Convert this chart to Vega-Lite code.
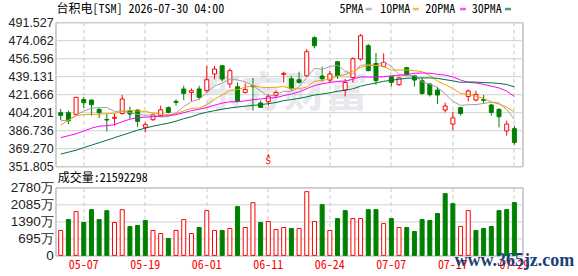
{
 "$schema": "https://vega.github.io/schema/vega-lite/v6.json",
 "background": "#ffffff",
 "padding": {"left": 7.5, "top": 2.2, "right": 0, "bottom": 0},
 "bounds": "flush",
 "spacing": 21.2,
 "config": {
  "view": {"stroke": "#a0a0a0", "strokeWidth": 1},
  "axis": {"domain": false, "ticks": false, "tickSize": 0, "title": null, "labelFlush": false, "labelOverlap": false, "labelSeparation": 0, "labelBound": false},
  "axisY": {"labelFont": "Liberation Sans", "labelFontSize": 12.5, "labelColor": "#222222", "labelPadding": 2.3, "gridColor": "#d0d0d0", "labelOverlap": false},
  "axisX": {"labelFont": "Noto Sans Mono CJK SC, Noto Sans CJK SC, DejaVu Sans Mono", "labelFontSize": 12, "labelColor": "#ff0000", "labelAngle": 0, "labelPadding": 4, "gridColor": "#c8c8c8", "gridDash": [4, 3]},
  "text": {"font": "Noto Sans Mono CJK SC, Noto Sans CJK SC, DejaVu Sans Mono"}
 },
 "datasets": {
  "k": [
   {"d":"05-04","o":403.7,"h":407.3,"l":396.6,"c":401.1,"v":1020,"vu":1,"m5":395.9,"m10":391.8,"m20":379.5,"m30":363.6},
   {"d":"05-05","o":403.7,"h":405.7,"l":392.7,"c":395.9,"v":1465,"vu":0,"m5":396.4,"m10":396.2,"m20":381.4,"m30":365.4},
   {"d":"05-06","o":402.1,"h":419.2,"l":401.1,"c":418.6,"v":1790,"vu":1,"m5":401.3,"m10":400.8,"m20":383.3,"m30":367.3},
   {"d":"05-07","o":416.6,"h":418.9,"l":408.3,"c":413.4,"v":1345,"vu":0,"m5":405.2,"m10":401.8,"m20":385.8,"m30":369.8},
   {"d":"05-08","o":416.0,"h":416.3,"l":400.8,"c":411.5,"v":1870,"vu":0,"m5":408.1,"m10":402.1,"m20":388.7,"m30":372.2},
   {"d":"05-11","o":406.9,"h":408.3,"l":398.6,"c":403.7,"v":1465,"vu":0,"m5":408.6,"m10":402.3,"m20":390.6,"m30":374.6},
   {"d":"05-12","o":397.2,"h":402.5,"l":385.6,"c":396.6,"v":1830,"vu":0,"m5":408.8,"m10":402.7,"m20":391.1,"m30":377.0},
   {"d":"05-13","o":398.2,"h":403.0,"l":391.1,"c":399.2,"v":1345,"vu":1,"m5":404.9,"m10":403.2,"m20":392.1,"m30":379.5},
   {"d":"05-14","o":403.0,"h":420.9,"l":401.8,"c":417.0,"v":1870,"vu":1,"m5":405.6,"m10":404.7,"m20":395.0,"m30":381.9},
   {"d":"05-15","o":405.7,"h":409.5,"l":397.6,"c":402.4,"v":1180,"vu":0,"m5":403.8,"m10":405.9,"m20":397.4,"m30":384.3},
   {"d":"05-18","o":406.3,"h":406.9,"l":390.1,"c":395.3,"v":1220,"vu":0,"m5":402.1,"m10":405.4,"m20":398.9,"m30":386.8},
   {"d":"05-19","o":389.5,"h":394.3,"l":384.6,"c":392.1,"v":1425,"vu":0,"m5":401.2,"m10":405.0,"m20":399.4,"m30":388.7},
   {"d":"05-20","o":396.9,"h":403.0,"l":395.9,"c":401.5,"v":1020,"vu":1,"m5":401.7,"m10":403.3,"m20":399.8,"m30":390.6},
   {"d":"05-21","o":400.8,"h":410.5,"l":399.8,"c":406.6,"v":895,"vu":1,"m5":399.6,"m10":402.6,"m20":400.3,"m30":392.1},
   {"d":"05-22","o":408.6,"h":409.8,"l":403.0,"c":404.0,"v":690,"vu":0,"m5":399.9,"m10":401.8,"m20":400.8,"m30":393.5},
   {"d":"05-26","o":414.7,"h":416.6,"l":410.5,"c":413.7,"v":1020,"vu":1,"m5":403.6,"m10":402.8,"m20":401.8,"m30":395.5},
   {"d":"05-27","o":426.7,"h":429.9,"l":416.0,"c":422.4,"v":1465,"vu":1,"m5":409.6,"m10":405.4,"m20":403.7,"m30":397.9},
   {"d":"05-28","o":423.4,"h":427.3,"l":414.7,"c":425.1,"v":895,"vu":1,"m5":414.4,"m10":408.0,"m20":405.7,"m30":399.8},
   {"d":"05-29","o":426.7,"h":429.9,"l":416.3,"c":418.6,"v":1140,"vu":0,"m5":416.8,"m10":408.2,"m20":407.1,"m30":402.3},
   {"d":"06-01","o":425.1,"h":449.3,"l":423.4,"c":435.7,"v":1830,"vu":1,"m5":423.1,"m10":411.5,"m20":408.7,"m30":404.2},
   {"d":"06-02","o":441.3,"h":449.0,"l":436.0,"c":446.1,"v":1020,"vu":1,"m5":429.6,"m10":416.6,"m20":411.0,"m30":405.7},
   {"d":"06-03","o":449.3,"h":450.0,"l":434.1,"c":436.4,"v":1020,"vu":0,"m5":432.4,"m10":421.0,"m20":413.0,"m30":407.1},
   {"d":"06-04","o":431.6,"h":446.7,"l":427.7,"c":444.5,"v":1100,"vu":1,"m5":436.3,"m10":425.3,"m20":414.3,"m30":408.3},
   {"d":"06-05","o":428.9,"h":433.1,"l":413.7,"c":414.7,"v":1995,"vu":0,"m5":435.5,"m10":426.1,"m20":414.4,"m30":409.2},
   {"d":"06-08","o":423.4,"h":432.2,"l":422.4,"c":426.3,"v":1140,"vu":1,"m5":433.6,"m10":428.4,"m20":415.1,"m30":410.0},
   {"d":"06-09","o":429.9,"h":437.4,"l":405.7,"c":428.9,"v":2155,"vu":1,"m5":430.2,"m10":429.9,"m20":416.4,"m30":410.8},
   {"d":"06-10","o":413.1,"h":415.4,"l":408.3,"c":408.9,"v":1345,"vu":0,"m5":424.7,"m10":428.5,"m20":417.0,"m30":411.5},
   {"d":"06-11","o":414.4,"h":421.9,"l":410.5,"c":419.5,"v":1385,"vu":1,"m5":419.7,"m10":428.0,"m20":418.0,"m30":412.5},
   {"d":"06-12","o":420.2,"h":425.1,"l":419.2,"c":423.4,"v":1060,"vu":1,"m5":421.4,"m10":428.4,"m20":418.3,"m30":413.6},
   {"d":"06-15","o":440.9,"h":443.5,"l":433.1,"c":441.9,"v":1140,"vu":1,"m5":424.5,"m10":429.1,"m20":420.3,"m30":415.5},
   {"d":"06-16","o":436.7,"h":439.6,"l":425.1,"c":427.0,"v":1100,"vu":0,"m5":424.1,"m10":427.2,"m20":421.9,"m30":416.4},
   {"d":"06-17","o":435.7,"h":443.5,"l":432.1,"c":433.1,"v":1100,"vu":1,"m5":429.0,"m10":426.8,"m20":423.9,"m30":417.6},
   {"d":"06-18","o":439.6,"h":465.5,"l":438.6,"c":462.9,"v":2605,"vu":1,"m5":437.7,"m10":428.7,"m20":427.0,"m30":419.1},
   {"d":"06-22","o":476.5,"h":477.8,"l":466.1,"c":468.7,"v":1385,"vu":1,"m5":446.7,"m10":434.1,"m20":430.1,"m30":420.9},
   {"d":"06-23","o":439.3,"h":448.3,"l":434.1,"c":436.7,"v":2075,"vu":0,"m5":445.7,"m10":435.1,"m20":431.7,"m30":421.8},
   {"d":"06-24","o":435.4,"h":444.5,"l":433.1,"c":441.3,"v":1020,"vu":1,"m5":448.5,"m10":436.3,"m20":433.1,"m30":423.0},
   {"d":"06-25","o":453.2,"h":453.5,"l":436.4,"c":439.6,"v":1505,"vu":0,"m5":449.8,"m10":439.4,"m20":434.0,"m30":424.5},
   {"d":"06-26","o":425.7,"h":436.4,"l":419.5,"c":433.1,"v":1830,"vu":0,"m5":443.9,"m10":440.8,"m20":434.4,"m30":425.6},
   {"d":"06-29","o":437.9,"h":457.4,"l":433.1,"c":456.1,"v":1505,"vu":1,"m5":441.4,"m10":444.0,"m20":436.2,"m30":426.9},
   {"d":"06-30","o":455.8,"h":480.1,"l":454.2,"c":478.4,"v":1505,"vu":1,"m5":449.7,"m10":447.7,"m20":438.4,"m30":429.4},
   {"d":"07-01","o":468.7,"h":470.4,"l":444.0,"c":444.5,"v":1870,"vu":0,"m5":450.3,"m10":449.4,"m20":438.3,"m30":431.1},
   {"d":"07-02","o":451.5,"h":461.6,"l":430.9,"c":434.8,"v":1870,"vu":0,"m5":449.4,"m10":449.6,"m20":438.2,"m30":432.5},
   {"d":"07-06","o":448.6,"h":461.3,"l":447.7,"c":452.5,"v":1300,"vu":1,"m5":453.3,"m10":448.6,"m20":438.6,"m30":434.2},
   {"d":"07-07","o":438.6,"h":439.0,"l":429.2,"c":433.1,"v":1505,"vu":0,"m5":448.7,"m10":445.0,"m20":439.5,"m30":435.1},
   {"d":"07-08","o":430.9,"h":438.6,"l":429.9,"c":437.4,"v":1140,"vu":1,"m5":440.5,"m10":445.1,"m20":440.1,"m30":436.2},
   {"d":"07-09","o":447.4,"h":448.3,"l":439.6,"c":440.6,"v":1140,"vu":0,"m5":439.7,"m10":445.0,"m20":440.7,"m30":437.1},
   {"d":"07-10","o":439.6,"h":440.6,"l":429.2,"c":435.4,"v":975,"vu":0,"m5":439.8,"m10":444.6,"m20":442.0,"m30":437.5},
   {"d":"07-13","o":434.8,"h":437.9,"l":421.2,"c":422.4,"v":1465,"vu":0,"m5":433.8,"m10":443.5,"m20":442.2,"m30":437.4},
   {"d":"07-14","o":431.6,"h":432.2,"l":419.5,"c":421.2,"v":1425,"vu":0,"m5":431.4,"m10":440.0,"m20":442.0,"m30":437.5},
   {"d":"07-15","o":425.7,"h":428.9,"l":412.2,"c":420.9,"v":1710,"vu":0,"m5":428.1,"m10":434.3,"m20":441.0,"m30":437.0},
   {"d":"07-16","o":406.3,"h":413.4,"l":404.0,"c":410.2,"v":2525,"vu":0,"m5":422.0,"m10":430.9,"m20":440.2,"m30":435.8},
   {"d":"07-17","o":392.7,"h":404.7,"l":386.9,"c":398.6,"v":2115,"vu":0,"m5":414.7,"m10":427.2,"m20":438.4,"m30":434.6},
   {"d":"07-20","o":408.6,"h":409.5,"l":400.8,"c":403.0,"v":1180,"vu":1,"m5":410.8,"m10":422.3,"m20":435.4,"m30":433.2},
   {"d":"07-21","o":419.5,"h":426.3,"l":414.7,"c":424.8,"v":1830,"vu":1,"m5":411.5,"m10":421.5,"m20":433.2,"m30":433.5},
   {"d":"07-22","o":416.0,"h":425.1,"l":414.7,"c":421.5,"v":1020,"vu":0,"m5":411.6,"m10":419.9,"m20":432.5,"m30":433.4},
   {"d":"07-23","o":416.6,"h":420.9,"l":412.7,"c":415.7,"v":1100,"vu":0,"m5":412.7,"m10":417.4,"m20":431.2,"m30":432.9},
   {"d":"07-24","o":411.2,"h":412.2,"l":400.8,"c":404.0,"v":1180,"vu":0,"m5":413.8,"m10":414.2,"m20":429.4,"m30":432.7},
   {"d":"07-27","o":406.9,"h":407.9,"l":389.5,"c":399.8,"v":1830,"vu":0,"m5":413.2,"m10":412.0,"m20":427.8,"m30":432.1},
   {"d":"07-28","o":386.0,"h":396.0,"l":381.4,"c":392.7,"v":1870,"vu":0,"m5":406.7,"m10":409.1,"m20":424.6,"m30":431.1},
   {"d":"07-29","o":388.2,"h":391.1,"l":372.7,"c":374.9,"v":2159.2298,"vu":0,"m5":397.4,"m10":404.5,"m20":419.4,"m30":428.8}
  ]
 },
 "vconcat": [
  {
   "width": 467,
   "height": 144,
   "layer": [
    {
     "data": {"values": [{"t": "东方财富"}]},
     "mark": {"type": "text", "font": "Noto Sans CJK SC", "fontSize": 42, "fontWeight": "bold", "fill": "#b0b4c8", "opacity": 0.28, "align": "center", "baseline": "middle"},
     "encoding": {
      "x": {"datum": "06-15", "type": "ordinal"},
      "y": {"datum": 421.666, "type": "quantitative"},
      "text": {"field": "t"}
     }
    },
    {
     "data": {"name": "k"},
     "mark": {"type": "rule", "strokeWidth": 1},
     "encoding": {
      "x": {"field": "d", "type": "ordinal", "scale": {"paddingInner": 0, "paddingOuter": 0.365, "align": 0.24},
            "axis": {"values": ["05-07","05-19","06-01","06-11","06-24","07-07","07-17","07-29"], "labels": false, "grid": true, "bandPosition": 0.5, "tickCount": 60}},
      "y": {"field": "l", "type": "quantitative", "scale": {"domain": [351.805, 491.527], "nice": false, "zero": false},
            "axis": {"values": [351.805, 369.270, 386.736, 404.201, 421.666, 439.131, 456.596, 474.062, 491.527], "tickCount": 20, "format": ".3f", "grid": true, "labelOverlap": false}},
      "y2": {"field": "h"},
      "color": {"condition": {"test": "datum.c > datum.o", "value": "#ff0000"}, "value": "#008000"}
     }
    },
    {
     "data": {"name": "k"},
     "mark": {"type": "bar", "size": 4, "strokeWidth": 1},
     "encoding": {
      "x": {"field": "d", "type": "ordinal"},
      "y": {"field": "o", "type": "quantitative"},
      "y2": {"field": "c"},
      "fill": {"condition": {"test": "datum.c > datum.o", "value": "#ffffff"}, "value": "#008000"},
      "stroke": {"condition": {"test": "datum.c > datum.o", "value": "#ff0000"}, "value": "#008000"}
     }
    },
    {
     "data": {"name": "k"},
     "mark": {"type": "line", "color": "#a0a0a0", "strokeWidth": 1},
     "encoding": {"x": {"field": "d", "type": "ordinal"}, "y": {"field": "m5", "type": "quantitative"}}
    },
    {
     "data": {"name": "k"},
     "mark": {"type": "line", "color": "#f0a000", "strokeWidth": 1},
     "encoding": {"x": {"field": "d", "type": "ordinal"}, "y": {"field": "m10", "type": "quantitative"}}
    },
    {
     "data": {"name": "k"},
     "mark": {"type": "line", "color": "#ff00ff", "strokeWidth": 1},
     "encoding": {"x": {"field": "d", "type": "ordinal"}, "y": {"field": "m20", "type": "quantitative"}}
    },
    {
     "data": {"name": "k"},
     "mark": {"type": "line", "color": "#00703c", "strokeWidth": 1},
     "encoding": {"x": {"field": "d", "type": "ordinal"}, "y": {"field": "m30", "type": "quantitative"}}
    },
    {
     "data": {"values": [{"t": "台积电[TSM] 2026-07-30 04:00"}]},
     "mark": {"type": "text", "align": "left", "baseline": "alphabetic", "fontSize": 12, "fill": "#000000", "dx": -4.2},
     "encoding": {"x": {"datum": "05-04", "type": "ordinal"}, "y": {"datum": 500.0, "type": "quantitative"}, "text": {"field": "t"}}
    },
    {
     "data": {"values": [{"t": "5PMA"}]},
     "mark": {"type": "text", "align": "right", "baseline": "alphabetic", "fontSize": 12, "fill": "#000000", "dx": -4.8},
     "encoding": {"x": {"datum": "07-01", "type": "ordinal"}, "y": {"datum": 500.0, "type": "quantitative"}, "text": {"field": "t"}}
    },
    {
     "data": {"values": [{"t": "10PMA"}]},
     "mark": {"type": "text", "align": "right", "baseline": "alphabetic", "fontSize": 12, "fill": "#000000", "dx": -4.2},
     "encoding": {"x": {"datum": "07-10", "type": "ordinal"}, "y": {"datum": 500.0, "type": "quantitative"}, "text": {"field": "t"}}
    },
    {
     "data": {"values": [{"t": "20PMA"}]},
     "mark": {"type": "text", "align": "right", "baseline": "alphabetic", "fontSize": 12, "fill": "#000000", "dx": -5.4},
     "encoding": {"x": {"datum": "07-20", "type": "ordinal"}, "y": {"datum": 500.0, "type": "quantitative"}, "text": {"field": "t"}}
    },
    {
     "data": {"values": [{"t": "30PMA"}]},
     "mark": {"type": "text", "align": "right", "baseline": "alphabetic", "fontSize": 12, "fill": "#000000", "dx": -4.9},
     "encoding": {"x": {"datum": "07-28", "type": "ordinal"}, "y": {"datum": 500.0, "type": "quantitative"}, "text": {"field": "t"}}
    },
    {
     "data": {"values": [{}]},
     "mark": {"type": "tick", "orient": "horizontal", "size": 6, "thickness": 2.5, "color": "#a0a0a0", "xOffset": 0.5},
     "encoding": {"x": {"datum": "07-01", "type": "ordinal"}, "y": {"datum": 504.3, "type": "quantitative"}}
    },
    {
     "data": {"values": [{}]},
     "mark": {"type": "tick", "orient": "horizontal", "size": 6, "thickness": 2.5, "color": "#f0a000", "xOffset": 1.4},
     "encoding": {"x": {"datum": "07-10", "type": "ordinal"}, "y": {"datum": 504.3, "type": "quantitative"}}
    },
    {
     "data": {"values": [{}]},
     "mark": {"type": "tick", "orient": "horizontal", "size": 6, "thickness": 2.5, "color": "#ff00ff", "xOffset": 2.4},
     "encoding": {"x": {"datum": "07-20", "type": "ordinal"}, "y": {"datum": 504.3, "type": "quantitative"}}
    },
    {
     "data": {"values": [{}]},
     "mark": {"type": "tick", "orient": "horizontal", "size": 6, "thickness": 2.5, "color": "#00703c", "xOffset": 1.3},
     "encoding": {"x": {"datum": "07-28", "type": "ordinal"}, "y": {"datum": 504.3, "type": "quantitative"}}
    },
    {
     "data": {"values": [{"t": "S"}]},
     "mark": {"type": "text", "align": "center", "baseline": "middle", "fontSize": 10, "fill": "#ff0000", "font": "Liberation Serif"},
     "encoding": {"x": {"datum": "06-11", "type": "ordinal"}, "y": {"datum": 356.4, "type": "quantitative"}, "text": {"field": "t"}}
    },
    {
     "data": {"values": [{}]},
     "mark": {"type": "point", "shape": "triangle-up", "size": 10, "filled": true, "color": "#ff0000", "opacity": 1},
     "encoding": {"x": {"datum": "06-11", "type": "ordinal"}, "y": {"datum": 362.6, "type": "quantitative"}}
    }
   ]
  },
  {
   "width": 467,
   "height": 68,
   "layer": [
    {
     "data": {"name": "k"},
     "mark": {"type": "bar", "size": 4, "strokeWidth": 1},
     "encoding": {
      "x": {"field": "d", "type": "ordinal", "scale": {"paddingInner": 0, "paddingOuter": 0.365, "align": 0.24},
            "axis": {"values": ["05-07","05-19","06-01","06-11","06-24","07-07","07-17","07-29"], "grid": true, "bandPosition": 0.5, "tickCount": 60}},
      "y": {"field": "v", "type": "quantitative", "scale": {"domain": [0, 2780], "nice": false},
            "axis": {"values": [0, 695, 1390, 2085, 2780], "tickCount": 20, "labelFontSize": 13.5, "labelExpr": "datum.value == 0 ? '0' : datum.value + '万'", "grid": true, "labelOverlap": false}},
      "fill": {"condition": {"test": "datum.vu == 1", "value": "#ffffff"}, "value": "#008000"},
      "stroke": {"condition": {"test": "datum.vu == 1", "value": "#ff0000"}, "value": "#008000"}
     }
    },
    {
     "data": {"values": [{"t": "成交量:21592298"}]},
     "mark": {"type": "text", "align": "left", "baseline": "alphabetic", "fontSize": 12, "fill": "#000000", "dx": -2.9},
     "encoding": {"x": {"datum": "05-04", "type": "ordinal"}, "y": {"datum": 3012, "type": "quantitative"}, "text": {"field": "t"}}
    },
    {
     "data": {"values": [{"t": "www.365jz.com"}]},
     "mark": {"type": "text", "align": "center", "baseline": "middle", "fontSize": 18, "fontWeight": "bold", "font": "Liberation Serif", "fill": "#1c3f7a"},
     "encoding": {"x": {"datum": "07-29", "type": "ordinal"}, "y": {"datum": -225, "type": "quantitative"}, "text": {"field": "t"}}
    }
   ]
  }
 ]
}
